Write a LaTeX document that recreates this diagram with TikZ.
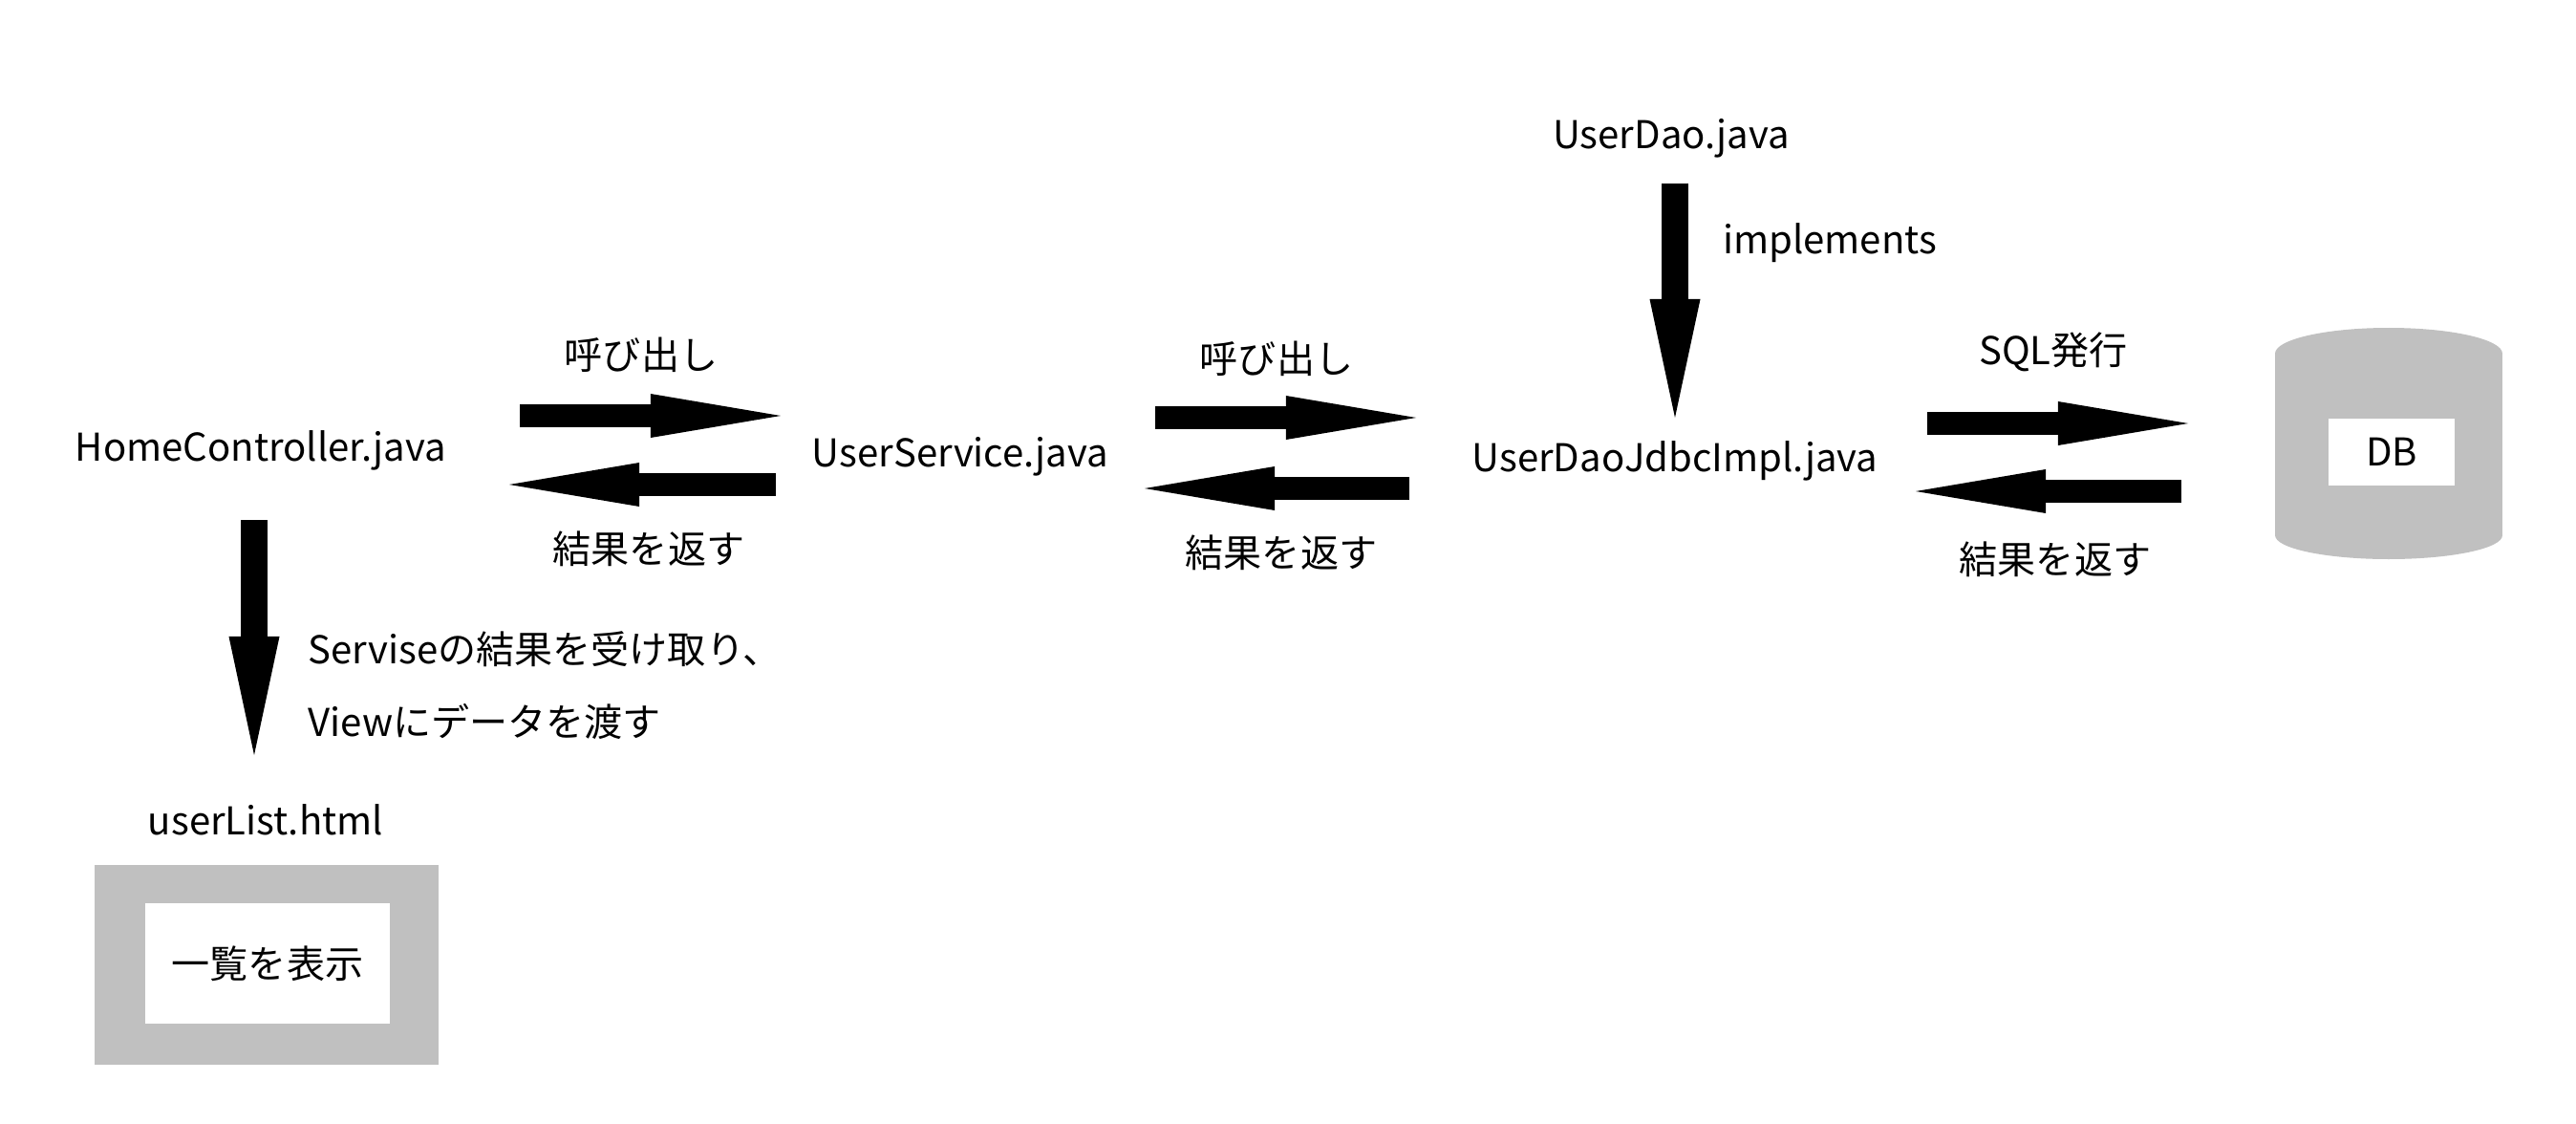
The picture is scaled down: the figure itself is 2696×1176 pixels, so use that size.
\documentclass[tikz,border=0pt]{standalone}
\usepackage{fontspec}
\setmainfont{Noto Sans CJK JP}
\usetikzlibrary{arrows.meta}
\definecolor{boxgray}{RGB}{192,192,192}
\tikzset{
  label/.style={inner sep=0pt, font=\fontsize{11.4pt}{13pt}\selectfont},
  callarrow/.style={line width=0.24cm, -{Triangle[length=1.36cm,width=0.46cm,line width=0pt]}},
  downarrow/.style={line width=0.28cm, -{Triangle[length=1.24cm,width=0.53cm,line width=0pt]}},
  whitebox/.style={label, fill=white, minimum width=#1}
}

\begin{document}
\begin{tikzpicture}[x=0.01cm, y=-0.01cm]
    \useasboundingbox (0,0) rectangle (2696,1176);

    % classes
    \node[label, anchor=base] (home) at (273,482) {HomeController.java};
    \node[label, anchor=base] (service) at (1005,488) {UserService.java};
    \node[label, anchor=base] (daoimpl) at (1753,493) {UserDaoJdbcImpl.java};
    \node[label, anchor=base] (dao) at (1749,156) {UserDao.java};
    \node[label, anchor=base] (view) at (278,873) {userList.html};

    % userList.html
    \fill[boxgray] (99,905) rectangle (459,1114);
    \node[whitebox=2.55cm, minimum height=1.25cm] (list) at (280,1008) {一覧を表示};

    % DB
    \fill[boxgray] (2500,370) ellipse (119 and 27);
    \fill[boxgray] (2381,370) rectangle (2619,560);
    \fill[boxgray] (2500,560) ellipse (119 and 25);
    \node[whitebox=1.31cm, minimum height=0.70cm] (db) at (2503,473) {DB};

    % arrow ends
    \coordinate (c1s) at (544,435);  \coordinate (c1e) at (817,435);
    \coordinate (r1s) at (812,507);  \coordinate (r1e) at (533,507);
    \coordinate (c2s) at (1209,437); \coordinate (c2e) at (1482,437);
    \coordinate (r2s) at (1475,511); \coordinate (r2e) at (1198,511);
    \coordinate (c3s) at (2017,443); \coordinate (c3e) at (2290,443);
    \coordinate (r3s) at (2283,514); \coordinate (r3e) at (2005,514);
    \coordinate (v1s) at (266,544);  \coordinate (v1e) at (266,790);
    \coordinate (i1s) at (1753,192); \coordinate (i1e) at (1753,437);

    \draw[callarrow] (c1s) -- (c1e);
    \draw[callarrow] (r1s) -- (r1e);
    \draw[callarrow] (c2s) -- (c2e);
    \draw[callarrow] (r2s) -- (r2e);
    \draw[callarrow] (c3s) -- (c3e);
    \draw[callarrow] (r3s) -- (r3e);
    \draw[downarrow] (v1s) -- (v1e);
    \draw[downarrow] (i1s) -- (i1e);

    % arrow labels
    \node[label] (call1) at (671,371) {呼び出し};
    \node[label] (ret1) at (679,574) {結果を返す};
    \node[label] (call2) at (1336,375) {呼び出し};
    \node[label] (ret2) at (1341,578) {結果を返す};
    \node[label] (sql) at (2149,368) {SQL発行};
    \node[label] (ret3) at (2151,585) {結果を返す};
    \node[label, anchor=base] (impl) at (1915,265) {implements};
    \node[label, anchor=base west] (pass1) at (322,694) {Serviseの結果を受け取り、};
    \node[label, anchor=base west] (pass2) at (322,770) {Viewにデータを渡す};
\end{tikzpicture}
\end{document}
